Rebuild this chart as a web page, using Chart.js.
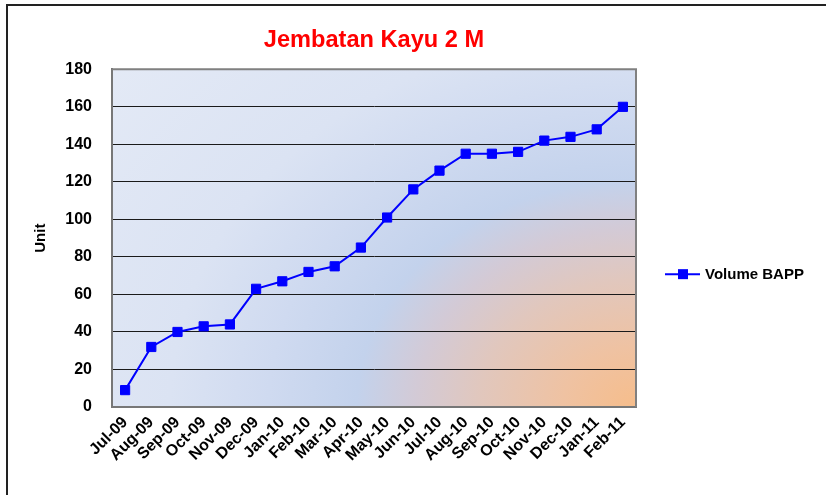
<!DOCTYPE html>
<html>
<head>
<meta charset="utf-8">
<script src="https://cdn.jsdelivr.net/npm/chart.js@4.4.0/dist/chart.umd.min.js"></script>
<style>
  html, body { margin: 0; padding: 0; background: #fff; }
  #wrap { width: 826px; height: 495px; }
</style>
</head>
<body>
<div id="wrap"><canvas id="bappChart" width="826" height="495"></canvas></div>
<script>
const months = ['Jul-09', 'Aug-09', 'Sep-09', 'Oct-09', 'Nov-09', 'Dec-09', 'Jan-10', 'Feb-10', 'Mar-10', 'Apr-10',
  'May-10', 'Jun-10', 'Jul-10', 'Aug-10', 'Sep-10', 'Oct-10', 'Nov-10', 'Dec-10', 'Jan-11', 'Feb-11'];
const volumeBapp = [9, 32, 40, 43, 44, 63, 67, 72, 75, 85, 101, 116, 126, 135, 135, 136, 142, 144, 148, 160];
const yTicks = [0, 20, 40, 60, 80, 100, 120, 140, 160, 180];
const chartTitle = 'Jembatan Kayu 2 M';
const seriesName = 'Volume BAPP';
const yAxisName = 'Unit';

const FONT = "'Liberation Sans', Arial, sans-serif";
const LINE_BLUE = '#0000ff';

// background gradient + outer frame
const framePlugin = {
  id: 'frame',
  beforeDraw(chart) {
    const ctx = chart.ctx;
    const { left, top, right, bottom } = chart.chartArea;
    const w = right - left, h = bottom - top;
    ctx.save();
    ctx.fillStyle = '#ffffff';
    ctx.fillRect(0, 0, chart.width, chart.height);

    // elliptical gradient anchored on the bottom right corner of the plot
    const sx = w * 0.935, sy = h * 1.175;
    ctx.beginPath();
    ctx.rect(left, top, w, h);
    ctx.clip();
    ctx.translate(right, bottom);
    ctx.scale(sx, sy);
    const R = 1.4;
    const g = ctx.createRadialGradient(0, 0, 0, 0, 0, R);
    g.addColorStop(0, '#f6bd8b');
    g.addColorStop(0.15 / R, '#efc2a2');
    g.addColorStop(0.32 / R, '#e1c7bd');
    g.addColorStop(0.45 / R, '#d3cad6');
    g.addColorStop(0.57 / R, '#c3d2ec');
    g.addColorStop(0.75 / R, '#cfdaf0');
    g.addColorStop(0.95 / R, '#dbe3f3');
    g.addColorStop(1, '#e4eaf6');
    ctx.fillStyle = g;
    ctx.fillRect(-2, -2, 2, 2);
    ctx.restore();

    ctx.save();
    ctx.fillStyle = '#222';
    ctx.fillRect(6, 4, chart.width - 6, 2);
    ctx.fillRect(6, 4, 2, chart.height - 4);
    ctx.restore();
  },
  beforeDatasetsDraw(chart) {
    const ctx = chart.ctx;
    const { left, top, right, bottom } = chart.chartArea;
    ctx.save();
    ctx.strokeStyle = '#808080';
    ctx.lineWidth = 2;
    ctx.beginPath();
    ctx.moveTo(left, top);
    ctx.lineTo(right, top);
    ctx.lineTo(right, bottom);
    ctx.stroke();
    ctx.restore();
  },
  afterDraw(chart) {
    // legend on the right
    const ctx = chart.ctx;
    const ds = chart.data.datasets[0];
    const area = chart.chartArea;
    const lx = area.right + 29;
    const ly = (area.top + area.bottom) / 2 + 36;
    ctx.save();
    ctx.strokeStyle = ds.borderColor;
    ctx.lineWidth = 2;
    ctx.beginPath();
    ctx.moveTo(lx, ly);
    ctx.lineTo(lx + 35, ly);
    ctx.stroke();
    ctx.fillStyle = ds.pointBackgroundColor;
    ctx.fillRect(lx + 13, ly - 5, 10, 10);
    ctx.fillStyle = '#000';
    ctx.font = 'bold 15px ' + FONT;
    ctx.textBaseline = 'middle';
    ctx.fillText(ds.label, lx + 40, ly + 1);
    ctx.restore();
  }
};

new Chart(document.getElementById('bappChart'), {
  type: 'line',
  data: {
    labels: months,
    datasets: [
      {
        label: seriesName,
        data: volumeBapp,
        borderColor: LINE_BLUE,
        borderWidth: 2,
        backgroundColor: LINE_BLUE,
        pointBackgroundColor: LINE_BLUE,
        pointBorderColor: LINE_BLUE,
        pointBorderWidth: 1,
        pointStyle: 'rect',
        pointRadius: 6.5,
        pointHoverRadius: 6.5,
        tension: 0,
        fill: false,
      },
    ],
  },
  options: {
    responsive: false,
    animation: false,
    devicePixelRatio: 1,
    layout: {
      padding: { top: 8, left: 26, right: 190, bottom: 4 },
    },
    scales: {
      x: {
        type: 'category',
        offset: true,
        grid: { display: false, drawTicks: false },
        border: { display: true, color: '#777', width: 2 },
        ticks: {
          autoSkip: false,
          maxRotation: 45,
          minRotation: 45,
          padding: 6,
          color: '#000',
          font: { family: FONT, size: 16, weight: 'bold' },
        },
        afterFit(scale) {
          scale.height = 84;
        },
      },
      y: {
        min: 0,
        max: 180,
        grid: {
          drawTicks: false,
          lineWidth: 1,
          color: (c) => (c.tick && (c.tick.value === 0 || c.tick.value === 180) ? '#808080' : '#1a1a1a'),
        },
        border: { display: true, color: '#777', width: 2 },
        ticks: {
          padding: 20,
          color: '#000',
          font: { family: FONT, size: 16, weight: 'bold' },
        },
        afterBuildTicks(scale) {
          scale.ticks = yTicks.map((v) => ({ value: v }));
        },
        afterFit(scale) {
          scale.width = 86;
        },
        title: {
          display: true,
          text: yAxisName,
          color: '#000',
          padding: { top: 6, bottom: 0 },
          font: { family: FONT, size: 15, weight: 'bold' },
        },
      },
    },
    plugins: {
      legend: { display: false },
      tooltip: { enabled: false },
      title: {
        display: true,
        text: chartTitle,
        color: '#ff0000',
        fullSize: false,
        padding: { top: 18, bottom: 15 },
        font: { family: FONT, size: 23.6, weight: 'bold' },
      },
    },
  },
  plugins: [framePlugin],
});
</script>
</body>
</html>
